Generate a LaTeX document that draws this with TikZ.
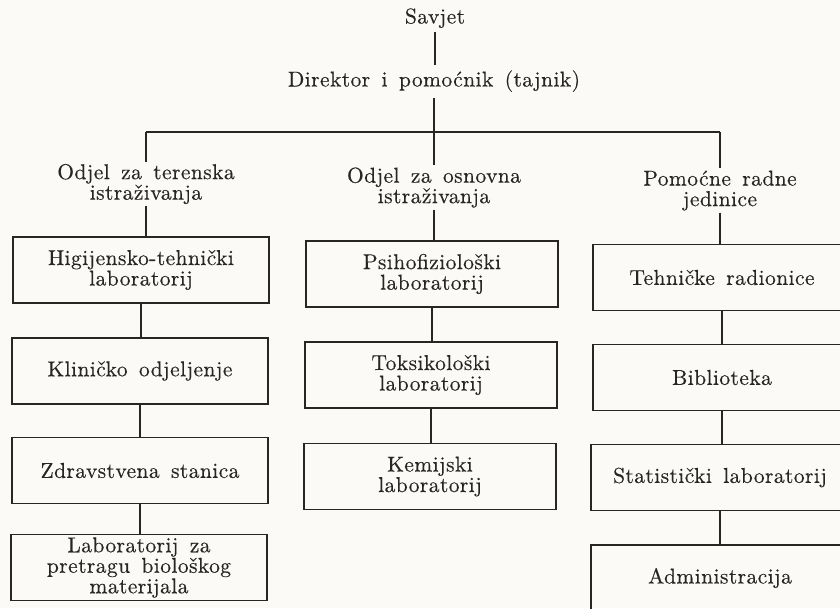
\documentclass[tikz,border=0pt]{standalone}
\usepackage{fontspec}
\newfontfamily\oldfont{lmroman10-regular.otf}[LetterSpace=2, WordSpace=1.5, FakeBold=0.3]
\newcommand{\tfont}{\oldfont\fontsize{21.5}{20.5}\selectfont}
\definecolor{ink}{RGB}{40,38,36}
\definecolor{paper}{RGB}{251,250,247}
\begin{document}
\begin{tikzpicture}[x=1pt,y=-1pt,
  txt/.style={font=\tfont, text=ink, align=center, inner xsep=2pt, inner ysep=2pt},
  one/.style={font=\tfont, text=ink, inner xsep=2pt, text height=14.5pt, text depth=4.5pt},
  box/.style={draw=ink, line width=1.7pt, font=\tfont, text=ink, align=center,
    minimum width=256pt, minimum height=66pt, inner sep=0pt},
  conn/.style={draw=ink, line width=1.4pt},
  busline/.style={draw=ink, line width=1.8pt}]
\useasboundingbox (0,0) rectangle (840,608);
\fill[paper] (0,0) rectangle (840,608);
\clip (0,0) rectangle (840,608);

% top
\node[one, inner ysep=4pt] (savjet) at (435,18.5) {Savjet};
\node[one, inner ysep=7pt] (director) at (434,81.5) {Direktor i pomoćnik (tajnik)};
\coordinate (bus) at (435,132);

% column heads
\node[txt] (lefthead) at (146,184) {Odjel za terenska\\istraživanja};
\node[txt] (midhead) at (434,187.5) {Odjel za osnovna\\istraživanja};
\node[txt] (righthead) at (720,190.5) {Pomoćne radne\\jedinice};

% left column
\node[box] (hig) at (141,270) {Higijensko-tehnički\\laboratorij};
\node[box] (kli) at (140,371) {Kliničko odjeljenje};
\node[box] (zdr) at (140,470.5) {Zdravstvena stanica};
\node[box] (lab) at (139,567.5) {Laboratorij za\\pretragu biološkog\\materijala};

% middle column
\node[box, minimum width=252pt] (psi) at (432,274) {Psihofiziološki\\laboratorij};
\node[box, minimum width=252pt] (tok) at (431,375) {Toksikološki\\laboratorij};
\node[box, minimum width=252pt] (kem) at (430,476.5) {Kemijski\\laboratorij};

% right column
\node[box, minimum width=258pt] (teh) at (722,277.5) {Tehničke radionice};
\node[box, minimum width=258pt] (bib) at (722,377.5) {Biblioteka};
\node[box, minimum width=258pt] (sta) at (720,477.5) {Statistički laboratorij};
\node[box, minimum width=258pt] (adm) at (720,578) {Administracija};

% connectors
\draw[conn] (savjet.south) -- (savjet.south |- director.north);
\draw[conn] (director.south) -- (director.south |- midhead.north);
\draw[busline] (lefthead.north |- bus) -- (righthead.north |- bus);
\draw[conn] (lefthead.north |- bus) -- (lefthead.north);
\draw[conn] (righthead.north |- bus) -- (righthead.north);

\draw[conn] (lefthead.south) -- (lefthead.south |- hig.north);
\draw[conn] (midhead.south) -- (midhead.south |- psi.north);
\draw[conn] (righthead.south) -- (righthead.south |- teh.north);

\draw[conn] (hig.south) -- (hig.south |- kli.north);
\draw[conn] (kli.south) -- (kli.south |- zdr.north);
\draw[conn] (zdr.south) -- (zdr.south |- lab.north);

\draw[conn] (psi.south) -- (psi.south |- tok.north);
\draw[conn] (tok.south) -- (tok.south |- kem.north);

\draw[conn] (teh.south) -- (teh.south |- bib.north);
\draw[conn] (bib.south) -- (bib.south |- sta.north);
\draw[conn] (sta.south) -- (sta.south |- adm.north);
\end{tikzpicture}
\end{document}
